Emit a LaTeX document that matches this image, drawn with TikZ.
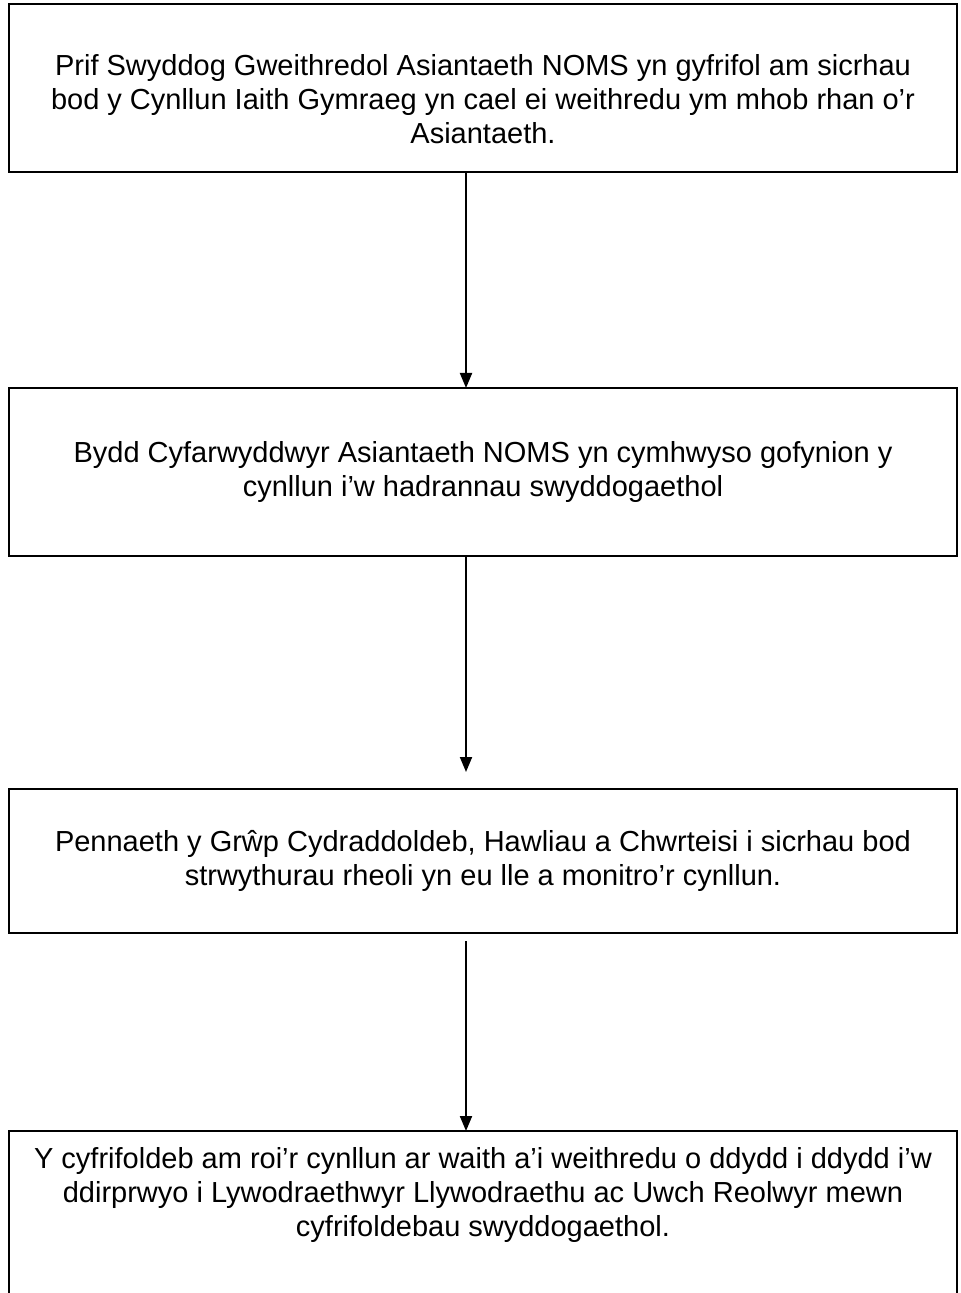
\documentclass[tikz,border=0pt]{standalone}
\usepackage{fontspec}
\setmainfont{Liberation Sans}
\usetikzlibrary{arrows.meta,positioning}
\definecolor{cynInk}{HTML}{000000}
\newcommand{\cynlift}{\rule{0pt}{22pt}}
\tikzset{
  cyn box/.style={draw=cynInk, line width=1.4pt, rectangle, inner sep=0pt, outer sep=0pt, minimum width=474pt, align=center, font=\fontsize{14.5}{17}\selectfont},
  cyn flow/.style={draw=cynInk, line width=1pt, -{Triangle[width=6pt,length=7.5pt]}},
}
\begin{document}
\begin{tikzpicture}[x=.5pt,y=.5pt]
  \useasboundingbox (0,0) rectangle (961,-1293);
  \coordinate (spine) at (466,0);
  \node[cyn box, minimum height=84pt] (chief) at (483,-88) {\cynlift Prif Swyddog Gweithredol Asiantaeth NOMS yn gyfrifol am sicrhau\\bod y Cynllun Iaith Gymraeg yn cael ei weithredu ym mhob rhan o’r\\Asiantaeth.};
  \node[cyn box, minimum height=84pt, below=108pt of chief] (directors) {Bydd Cyfarwyddwyr Asiantaeth NOMS yn cymhwyso gofynion y\\cynllun i’w hadrannau swyddogaethol};
  \node[cyn box, minimum height=72pt, below=116.5pt of directors] (equality) {Pennaeth y Grŵp Cydraddoldeb, Hawliau a Chwrteisi i sicrhau bod\\strwythurau rheoli yn eu lle a monitro’r cynllun.};
  \node[cyn box, inner ysep=8.3pt, text depth=150pt, below=99pt of equality] (governors) {Y cyfrifoldeb am roi’r cynllun ar waith a’i weithredu o ddydd i ddydd i’w\\ddirprwyo i Lywodraethwyr Llywodraethu ac Uwch Reolwyr mewn\\cyfrifoldebau swyddogaethol.};
  \draw[cyn flow] (chief.south -| spine) -- (directors.north -| spine);
  \draw[cyn flow, shorten >=8.5pt] (directors.south -| spine) -- (equality.north -| spine);
  \draw[cyn flow, shorten <=4pt] (equality.south -| spine) -- (governors.north -| spine);
\end{tikzpicture}
\end{document}
